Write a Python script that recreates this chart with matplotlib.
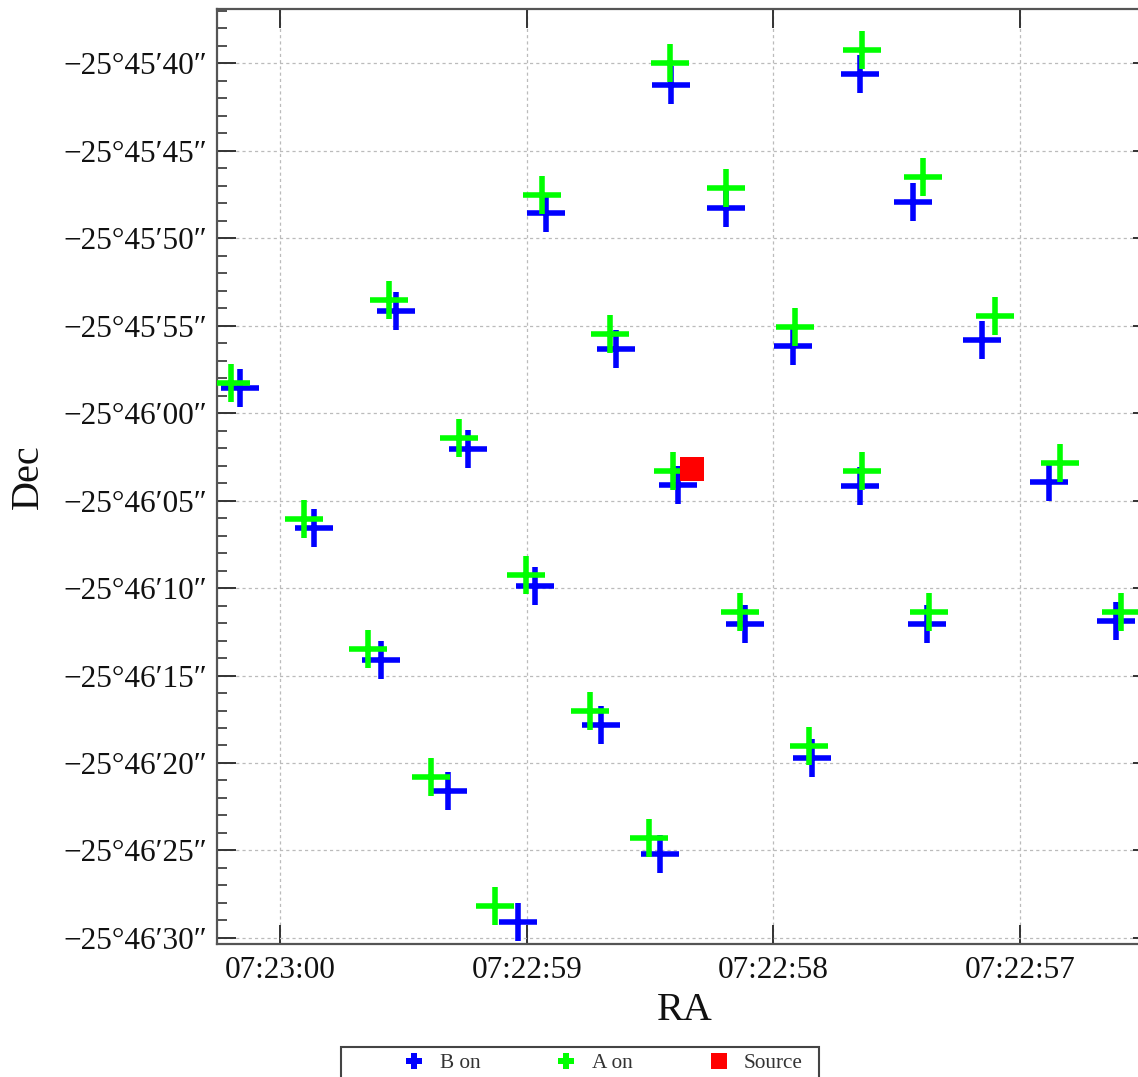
import matplotlib

matplotlib.use("Agg")
import matplotlib.pyplot as plt
from matplotlib.lines import Line2D
from matplotlib.patches import Rectangle
from matplotlib.ticker import FuncFormatter, MultipleLocator

plt.rcParams["font.family"] = ["Liberation Serif", "DejaVu Serif"]

# RA in seconds past 07:22:00, Dec in arcsec past -25°45'00"
B_RA = [60.163, 59.529, 58.921, 58.637, 58.414, 58.192, 57.648, 57.433, 57.921, 57.153,
        59.237, 59.864, 58.966, 59.592, 58.699, 59.321, 58.459, 59.034, 58.388, 57.648,
        56.881, 58.116, 57.376, 56.610, 57.845]
B_DEC = [58.56, 54.17, 48.55, 56.33, 41.22, 48.28, 40.59, 47.93, 56.16, 55.79,
         62.04, 66.59, 69.90, 74.10, 77.84, 81.63, 85.18, 89.12, 64.09, 64.19,
         63.91, 72.03, 72.03, 71.88, 79.74]

A_RA = [60.201, 59.560, 58.940, 58.661, 58.421, 58.192, 57.641, 57.395, 57.914, 57.103,
        59.276, 59.902, 59.003, 59.643, 58.744, 59.390, 58.503, 59.130, 58.408, 57.641,
        56.837, 58.135, 57.369, 56.590, 57.857]
A_DEC = [58.27, 53.54, 47.55, 55.50, 39.97, 47.12, 39.24, 46.49, 55.05, 54.44,
         61.43, 66.06, 69.27, 73.47, 77.05, 80.80, 84.29, 88.15, 63.28, 63.28,
         62.85, 71.34, 71.34, 71.34, 79.01]

SOURCE_RA = [58.331]
SOURCE_DEC = [63.20]

RA_LIMITS = (60.256, 56.465)
DEC_LIMITS = (90.35, 36.89)

SPINE_COLOR = "#555555"
TEXT_COLOR = "#111111"


def format_ra(value, pos):
    total = int(round(value))
    minutes = 22 + total // 60
    seconds = total % 60
    return f"07:{minutes:02d}:{seconds:02d}"


def format_dec(value, pos):
    total = int(round(value))
    minutes = 45 + total // 60
    seconds = total % 60
    return f"\u221225\u00b0{minutes:02d}\u2032{seconds:02d}\u2033"


def main():
    fig = plt.figure(figsize=(11.38, 10.77), dpi=100)
    ax = fig.add_axes([217 / 1138, 1 - 944 / 1077, (1152 - 217) / 1138, (944 - 9) / 1077])

    ax.plot(B_RA, B_DEC, linestyle="none", marker="+", markersize=28,
            markeredgewidth=4, color="#0000ff", zorder=3)
    ax.plot(A_RA, A_DEC, linestyle="none", marker="+", markersize=28,
            markeredgewidth=4, color="#00ff00", zorder=4)
    ax.plot(SOURCE_RA, SOURCE_DEC, linestyle="none", marker="s", markersize=17.6,
            markeredgewidth=0, color="#ff0000", zorder=5)

    ax.set_xlim(*RA_LIMITS)
    ax.set_ylim(*DEC_LIMITS)

    ax.xaxis.set_major_locator(MultipleLocator(1))
    ax.xaxis.set_major_formatter(FuncFormatter(format_ra))
    ax.yaxis.set_major_locator(MultipleLocator(5))
    ax.yaxis.set_minor_locator(MultipleLocator(1))
    ax.yaxis.set_major_formatter(FuncFormatter(format_dec))

    ax.tick_params(axis="both", which="major", direction="in", length=14, width=1.4,
                   color="#333333", labelsize=22.5, labelcolor=TEXT_COLOR)
    ax.tick_params(axis="x", which="major", top=True, pad=9)
    ax.tick_params(axis="y", which="major", right=True, pad=7)
    ax.tick_params(axis="y", which="minor", direction="in", length=7.5, width=1.2,
                   color="#333333", right=True)

    ax.grid(True, which="major", color="#bbbbbb", linestyle=(0, (2.5, 2.5)), linewidth=0.9)
    ax.set_axisbelow(True)

    for spine in ax.spines.values():
        spine.set_color(SPINE_COLOR)
        spine.set_linewidth(1.6)

    ax.set_xlabel("RA", fontsize=29, color=TEXT_COLOR, labelpad=5)
    ax.set_ylabel("Dec", fontsize=29, color=TEXT_COLOR, labelpad=12)

    # legend below the plot, boxed by hand
    handles = [
        Line2D([], [], linestyle="none", marker="P", markersize=11.5,
               markeredgewidth=0, color="#0000ff"),
        Line2D([], [], linestyle="none", marker="P", markersize=11.5,
               markeredgewidth=0, color="#00ff00"),
        Line2D([], [], linestyle="none", marker="s", markersize=11.3,
               markeredgewidth=0, color="#ff0000"),
    ]
    legend = fig.legend(handles, ["B on", "A on", "Source"], ncol=3, frameon=False,
                        loc="center", bbox_to_anchor=(0.530, 0.0125), fontsize=15.3,
                        handlelength=1.0, handletextpad=0.7, columnspacing=3.55,
                        borderpad=0.0, borderaxespad=0.0)
    for text in legend.get_texts():
        text.set_color("#333333")

    fig.patches.append(Rectangle((341 / 1138, -0.03), (819 - 341) / 1138,
                                 0.03 + 1 - 1047 / 1077, transform=fig.transFigure,
                                 fill=False, edgecolor="#444444", linewidth=1.5))

    fig.savefig("out.png", dpi=100)
    plt.close(fig)


if __name__ == "__main__":
    main()
